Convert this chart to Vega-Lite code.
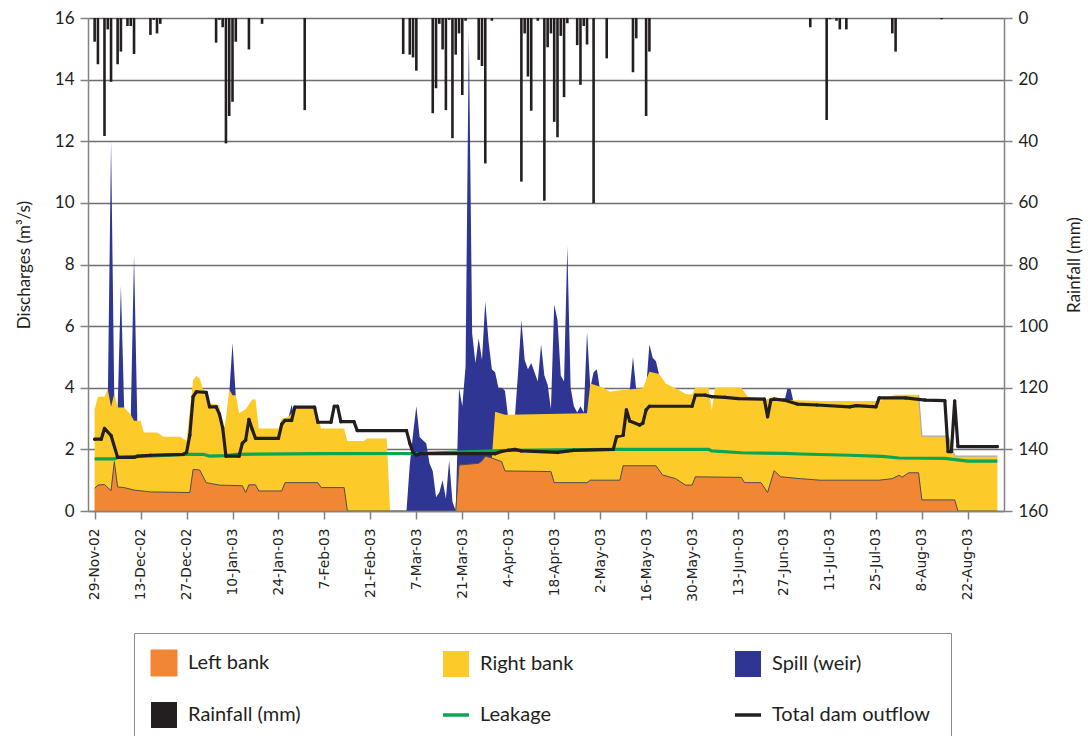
{
  "$schema": "https://vega.github.io/schema/vega-lite/v6.json",
  "autosize": {"type": "none"},
  "width": 916,
  "height": 493,
  "padding": {"left": 88, "top": 18, "right": 84, "bottom": 225},
  "config": {
    "font": "Lato",
    "view": {"stroke": null},
    "axis": {
      "labelFont": "Lato", "labelFontSize": 17, "labelColor": "#231f20",
      "titleFont": "Lato", "titleFontSize": 17, "titleFontWeight": "normal", "titleColor": "#231f20",
      "domainColor": "#808285", "domainWidth": 1.5, "tickColor": "#808285", "tickWidth": 1.5, "tickSize": 8
    },
    "legend": {
      "orient": "none", "legendX": 46, "legendY": 615,
      "direction": "horizontal", "columns": 3, "gridAlign": "all",
      "padding": 20, "strokeColor": "#8a8c8f",
      "symbolSize": 676, "symbolType": "square", "symbolOpacity": 1,
      "labelFont": "Lato", "labelFontSize": 20, "labelColor": "#231f20",
      "labelOffset": 14, "labelLimit": 400, "columnPadding": 89, "rowPadding": 24
    }
  },
  "datasets": {
    "left": [
      {"date": "2002-11-29", "value": 0.74}, {"date": "2002-11-30", "value": 0.84}, {"date": "2002-12-02", "value": 0.86},
      {"date": "2002-12-04", "value": 0.66}, {"date": "2002-12-05", "value": 1.6}, {"date": "2002-12-06", "value": 0.78},
      {"date": "2002-12-08", "value": 0.76}, {"date": "2002-12-11", "value": 0.68}, {"date": "2002-12-16", "value": 0.62},
      {"date": "2002-12-28", "value": 0.6}, {"date": "2002-12-29", "value": 1.35}, {"date": "2002-12-31", "value": 1.33},
      {"date": "2003-01-02", "value": 0.92}, {"date": "2003-01-06", "value": 0.84}, {"date": "2003-01-13", "value": 0.82},
      {"date": "2003-01-14", "value": 0.6}, {"date": "2003-01-15", "value": 0.85}, {"date": "2003-01-17", "value": 0.85},
      {"date": "2003-01-18", "value": 0.65}, {"date": "2003-01-25", "value": 0.65}, {"date": "2003-01-26", "value": 0.92},
      {"date": "2003-02-05", "value": 0.92}, {"date": "2003-02-06", "value": 0.76}, {"date": "2003-02-13", "value": 0.76},
      {"date": "2003-02-14", "value": 0}, {"date": "2003-03-19", "value": 0}, {"date": "2003-03-20", "value": 1.49},
      {"date": "2003-03-26", "value": 1.55}, {"date": "2003-03-27", "value": 1.63}, {"date": "2003-03-28", "value": 1.78},
      {"date": "2003-03-30", "value": 1.72}, {"date": "2003-04-02", "value": 1.6}, {"date": "2003-04-03", "value": 1.3},
      {"date": "2003-04-17", "value": 1.28}, {"date": "2003-04-18", "value": 0.92}, {"date": "2003-04-28", "value": 0.92},
      {"date": "2003-04-29", "value": 1.0}, {"date": "2003-05-08", "value": 1.0}, {"date": "2003-05-09", "value": 1.47},
      {"date": "2003-05-19", "value": 1.47}, {"date": "2003-05-21", "value": 1.17}, {"date": "2003-05-25", "value": 1.05},
      {"date": "2003-05-28", "value": 0.84}, {"date": "2003-05-30", "value": 0.84}, {"date": "2003-05-31", "value": 1.11},
      {"date": "2003-06-14", "value": 1.09}, {"date": "2003-06-15", "value": 0.92}, {"date": "2003-06-20", "value": 0.92},
      {"date": "2003-06-22", "value": 0.6}, {"date": "2003-06-24", "value": 1.31}, {"date": "2003-06-26", "value": 1.11},
      {"date": "2003-07-02", "value": 1.05}, {"date": "2003-07-08", "value": 1.0}, {"date": "2003-07-26", "value": 1.0},
      {"date": "2003-07-30", "value": 1.05}, {"date": "2003-08-01", "value": 1.16}, {"date": "2003-08-02", "value": 1.1},
      {"date": "2003-08-04", "value": 1.24}, {"date": "2003-08-07", "value": 1.24}, {"date": "2003-08-08", "value": 0.36},
      {"date": "2003-08-18", "value": 0.36}, {"date": "2003-08-19", "value": 0}, {"date": "2003-08-31", "value": 0}
    ],
    "banks": [
      {"date": "2002-11-29", "value": 3.3}, {"date": "2002-11-30", "value": 3.71}, {"date": "2002-12-02", "value": 3.71},
      {"date": "2002-12-03", "value": 3.95}, {"date": "2002-12-04", "value": 3.38}, {"date": "2002-12-05", "value": 3.81},
      {"date": "2002-12-06", "value": 3.36}, {"date": "2002-12-08", "value": 3.36}, {"date": "2002-12-10", "value": 3.12},
      {"date": "2002-12-11", "value": 2.93}, {"date": "2002-12-13", "value": 2.93}, {"date": "2002-12-14", "value": 2.55},
      {"date": "2002-12-18", "value": 2.55}, {"date": "2002-12-20", "value": 2.41}, {"date": "2002-12-25", "value": 2.41},
      {"date": "2002-12-27", "value": 2.28}, {"date": "2002-12-29", "value": 4.25}, {"date": "2002-12-30", "value": 4.38},
      {"date": "2002-12-31", "value": 4.3}, {"date": "2003-01-01", "value": 3.95}, {"date": "2003-01-02", "value": 3.87},
      {"date": "2003-01-03", "value": 3.5}, {"date": "2003-01-06", "value": 3.44}, {"date": "2003-01-07", "value": 2.4},
      {"date": "2003-01-08", "value": 3.0}, {"date": "2003-01-09", "value": 3.95}, {"date": "2003-01-10", "value": 3.76},
      {"date": "2003-01-11", "value": 3.76}, {"date": "2003-01-12", "value": 3.17}, {"date": "2003-01-14", "value": 3.3},
      {"date": "2003-01-16", "value": 3.62}, {"date": "2003-01-17", "value": 3.62}, {"date": "2003-01-18", "value": 2.68},
      {"date": "2003-01-24", "value": 2.68}, {"date": "2003-01-25", "value": 3.0}, {"date": "2003-01-27", "value": 3.05},
      {"date": "2003-01-30", "value": 3.41}, {"date": "2003-02-04", "value": 3.41}, {"date": "2003-02-06", "value": 2.68},
      {"date": "2003-02-13", "value": 2.68}, {"date": "2003-02-14", "value": 2.27}, {"date": "2003-02-19", "value": 2.27},
      {"date": "2003-02-20", "value": 2.35}, {"date": "2003-02-26", "value": 2.35}, {"date": "2003-02-27", "value": 0},
      {"date": "2003-03-29", "value": 0}, {"date": "2003-03-30", "value": 1.72}, {"date": "2003-03-31", "value": 3.22},
      {"date": "2003-04-03", "value": 3.12}, {"date": "2003-04-28", "value": 3.17}, {"date": "2003-04-29", "value": 4.14},
      {"date": "2003-05-03", "value": 4.0}, {"date": "2003-05-05", "value": 3.87}, {"date": "2003-05-08", "value": 3.92},
      {"date": "2003-05-15", "value": 3.98}, {"date": "2003-05-17", "value": 4.52}, {"date": "2003-05-20", "value": 4.45},
      {"date": "2003-05-22", "value": 4.14}, {"date": "2003-05-26", "value": 3.93}, {"date": "2003-05-28", "value": 3.8},
      {"date": "2003-05-30", "value": 3.78}, {"date": "2003-05-31", "value": 4.0}, {"date": "2003-06-04", "value": 4.0},
      {"date": "2003-06-05", "value": 3.28}, {"date": "2003-06-06", "value": 4.0}, {"date": "2003-06-14", "value": 4.0},
      {"date": "2003-06-16", "value": 3.71}, {"date": "2003-06-21", "value": 3.6}, {"date": "2003-06-24", "value": 3.71},
      {"date": "2003-06-27", "value": 3.6}, {"date": "2003-07-09", "value": 3.57}, {"date": "2003-07-26", "value": 3.57},
      {"date": "2003-07-28", "value": 3.67}, {"date": "2003-07-31", "value": 3.77}, {"date": "2003-08-07", "value": 3.77},
      {"date": "2003-08-08", "value": 2.43}, {"date": "2003-08-16", "value": 2.43}, {"date": "2003-08-18", "value": 1.78},
      {"date": "2003-08-31", "value": 1.78}
    ],
    "spill": [
      {"date": "2002-12-02", "value": 0}, {"date": "2002-12-03", "value": 3.5}, {"date": "2002-12-04", "value": 12.0},
      {"date": "2002-12-05", "value": 3.5}, {"date": "2002-12-06", "value": 3.3}, {"date": "2002-12-07", "value": 7.3},
      {"date": "2002-12-08", "value": 3.3}, {"date": "2002-12-10", "value": 3.0}, {"date": "2002-12-11", "value": 8.3},
      {"date": "2002-12-12", "value": 2.9}, {"date": "2002-12-13", "value": 0}, {"date": "2003-01-08", "value": 0},
      {"date": "2003-01-09", "value": 3.8}, {"date": "2003-01-10", "value": 5.45}, {"date": "2003-01-11", "value": 3.7},
      {"date": "2003-01-12", "value": 0}, {"date": "2003-01-26", "value": 0}, {"date": "2003-01-27", "value": 3.0},
      {"date": "2003-01-28", "value": 3.45}, {"date": "2003-01-29", "value": 3.0}, {"date": "2003-01-30", "value": 0},
      {"date": "2003-03-04", "value": 0}, {"date": "2003-03-05", "value": 1.5}, {"date": "2003-03-06", "value": 2.5},
      {"date": "2003-03-07", "value": 3.4}, {"date": "2003-03-08", "value": 2.4}, {"date": "2003-03-09", "value": 2.3},
      {"date": "2003-03-10", "value": 2.2}, {"date": "2003-03-11", "value": 1.55}, {"date": "2003-03-12", "value": 1.3},
      {"date": "2003-03-13", "value": 0.45}, {"date": "2003-03-14", "value": 0.6}, {"date": "2003-03-15", "value": 1.0},
      {"date": "2003-03-16", "value": 0.4}, {"date": "2003-03-17", "value": 1.65}, {"date": "2003-03-18", "value": 0.3},
      {"date": "2003-03-19", "value": 0}, {"date": "2003-03-20", "value": 3.98}, {"date": "2003-03-21", "value": 3.4},
      {"date": "2003-03-22", "value": 4.7}, {"date": "2003-03-23", "value": 15.5}, {"date": "2003-03-24", "value": 5.77},
      {"date": "2003-03-25", "value": 4.8}, {"date": "2003-03-26", "value": 5.6}, {"date": "2003-03-27", "value": 4.9},
      {"date": "2003-03-28", "value": 6.8}, {"date": "2003-03-29", "value": 5.5}, {"date": "2003-03-30", "value": 4.6},
      {"date": "2003-03-31", "value": 4.5}, {"date": "2003-04-01", "value": 4.0}, {"date": "2003-04-02", "value": 4.0},
      {"date": "2003-04-03", "value": 3.9}, {"date": "2003-04-04", "value": 3.0}, {"date": "2003-04-06", "value": 3.0},
      {"date": "2003-04-07", "value": 4.5}, {"date": "2003-04-08", "value": 6.2}, {"date": "2003-04-09", "value": 4.9},
      {"date": "2003-04-10", "value": 4.6}, {"date": "2003-04-11", "value": 4.8}, {"date": "2003-04-12", "value": 4.5},
      {"date": "2003-04-13", "value": 4.2}, {"date": "2003-04-14", "value": 5.4}, {"date": "2003-04-15", "value": 4.4},
      {"date": "2003-04-16", "value": 4.1}, {"date": "2003-04-17", "value": 3.3}, {"date": "2003-04-18", "value": 6.7},
      {"date": "2003-04-19", "value": 6.2}, {"date": "2003-04-20", "value": 4.4}, {"date": "2003-04-21", "value": 4.2},
      {"date": "2003-04-22", "value": 8.6}, {"date": "2003-04-23", "value": 4.0}, {"date": "2003-04-24", "value": 3.4},
      {"date": "2003-04-25", "value": 3.2}, {"date": "2003-04-26", "value": 3.4}, {"date": "2003-04-27", "value": 3.2},
      {"date": "2003-04-28", "value": 5.8}, {"date": "2003-04-29", "value": 4.0}, {"date": "2003-04-30", "value": 4.5},
      {"date": "2003-05-01", "value": 4.6}, {"date": "2003-05-02", "value": 3.9}, {"date": "2003-05-03", "value": 0},
      {"date": "2003-05-10", "value": 0}, {"date": "2003-05-11", "value": 3.9}, {"date": "2003-05-12", "value": 5.0},
      {"date": "2003-05-13", "value": 3.9}, {"date": "2003-05-14", "value": 0}, {"date": "2003-05-15", "value": 0},
      {"date": "2003-05-16", "value": 4.0}, {"date": "2003-05-17", "value": 5.4}, {"date": "2003-05-18", "value": 4.97},
      {"date": "2003-05-19", "value": 4.86}, {"date": "2003-05-20", "value": 4.4}, {"date": "2003-05-21", "value": 0},
      {"date": "2003-06-26", "value": 0}, {"date": "2003-06-27", "value": 3.5}, {"date": "2003-06-28", "value": 3.96},
      {"date": "2003-06-29", "value": 3.96}, {"date": "2003-06-30", "value": 3.5}, {"date": "2003-07-01", "value": 0},
      {"date": "2003-08-31", "value": 0}
    ],
    "leakage": [
      {"date": "2002-11-29", "value": 1.69}, {"date": "2002-12-05", "value": 1.69}, {"date": "2002-12-06", "value": 1.74},
      {"date": "2002-12-27", "value": 1.84}, {"date": "2003-01-01", "value": 1.84}, {"date": "2003-01-03", "value": 1.78},
      {"date": "2003-01-08", "value": 1.8}, {"date": "2003-01-11", "value": 1.84}, {"date": "2003-02-07", "value": 1.86},
      {"date": "2003-03-09", "value": 1.87}, {"date": "2003-04-04", "value": 1.97}, {"date": "2003-05-06", "value": 2.0},
      {"date": "2003-06-04", "value": 2.0}, {"date": "2003-06-05", "value": 1.95}, {"date": "2003-06-14", "value": 1.89},
      {"date": "2003-06-27", "value": 1.87}, {"date": "2003-07-02", "value": 1.85}, {"date": "2003-07-17", "value": 1.81},
      {"date": "2003-07-27", "value": 1.77}, {"date": "2003-08-01", "value": 1.72}, {"date": "2003-08-15", "value": 1.71},
      {"date": "2003-08-22", "value": 1.62}, {"date": "2003-08-31", "value": 1.62}
    ],
    "outflow": [
      {"date": "2002-11-29", "value": 2.33}, {"date": "2002-12-01", "value": 2.33}, {"date": "2002-12-02", "value": 2.68},
      {"date": "2002-12-04", "value": 2.45}, {"date": "2002-12-06", "value": 1.74}, {"date": "2002-12-11", "value": 1.74},
      {"date": "2002-12-12", "value": 1.78}, {"date": "2002-12-16", "value": 1.81}, {"date": "2002-12-26", "value": 1.84},
      {"date": "2002-12-27", "value": 1.9}, {"date": "2002-12-28", "value": 2.47}, {"date": "2002-12-29", "value": 3.71},
      {"date": "2002-12-30", "value": 3.87}, {"date": "2003-01-02", "value": 3.85}, {"date": "2003-01-03", "value": 3.38},
      {"date": "2003-01-05", "value": 3.38}, {"date": "2003-01-06", "value": 3.15}, {"date": "2003-01-07", "value": 2.7},
      {"date": "2003-01-08", "value": 1.78}, {"date": "2003-01-12", "value": 1.78}, {"date": "2003-01-13", "value": 2.2},
      {"date": "2003-01-14", "value": 2.3}, {"date": "2003-01-15", "value": 2.97}, {"date": "2003-01-16", "value": 2.65},
      {"date": "2003-01-17", "value": 2.36}, {"date": "2003-01-24", "value": 2.36}, {"date": "2003-01-25", "value": 2.82},
      {"date": "2003-01-26", "value": 2.94}, {"date": "2003-01-28", "value": 2.94}, {"date": "2003-01-29", "value": 3.37},
      {"date": "2003-02-04", "value": 3.37}, {"date": "2003-02-05", "value": 2.88}, {"date": "2003-02-09", "value": 2.88},
      {"date": "2003-02-10", "value": 3.4}, {"date": "2003-02-11", "value": 3.4}, {"date": "2003-02-12", "value": 2.9},
      {"date": "2003-02-16", "value": 2.9}, {"date": "2003-02-17", "value": 2.61}, {"date": "2003-03-04", "value": 2.61},
      {"date": "2003-03-05", "value": 2.2}, {"date": "2003-03-06", "value": 1.9}, {"date": "2003-03-07", "value": 1.82},
      {"date": "2003-03-08", "value": 1.86}, {"date": "2003-03-31", "value": 1.86}, {"date": "2003-04-01", "value": 1.9},
      {"date": "2003-04-02", "value": 1.93}, {"date": "2003-04-04", "value": 1.97}, {"date": "2003-04-06", "value": 2.0},
      {"date": "2003-04-08", "value": 1.95}, {"date": "2003-04-19", "value": 1.9}, {"date": "2003-04-24", "value": 1.97},
      {"date": "2003-05-06", "value": 2.0}, {"date": "2003-05-07", "value": 2.41}, {"date": "2003-05-09", "value": 2.46},
      {"date": "2003-05-10", "value": 3.28}, {"date": "2003-05-11", "value": 2.92}, {"date": "2003-05-14", "value": 2.79},
      {"date": "2003-05-15", "value": 2.85}, {"date": "2003-05-16", "value": 3.28}, {"date": "2003-05-17", "value": 3.4},
      {"date": "2003-05-30", "value": 3.4}, {"date": "2003-05-31", "value": 3.76}, {"date": "2003-06-03", "value": 3.76},
      {"date": "2003-06-05", "value": 3.71}, {"date": "2003-06-09", "value": 3.69}, {"date": "2003-06-13", "value": 3.65},
      {"date": "2003-06-21", "value": 3.63}, {"date": "2003-06-22", "value": 3.06}, {"date": "2003-06-23", "value": 3.6},
      {"date": "2003-06-24", "value": 3.63}, {"date": "2003-06-27", "value": 3.6}, {"date": "2003-07-01", "value": 3.47},
      {"date": "2003-07-07", "value": 3.44}, {"date": "2003-07-17", "value": 3.38}, {"date": "2003-07-19", "value": 3.42},
      {"date": "2003-07-25", "value": 3.38}, {"date": "2003-07-26", "value": 3.67}, {"date": "2003-08-03", "value": 3.67},
      {"date": "2003-08-09", "value": 3.6}, {"date": "2003-08-15", "value": 3.58}, {"date": "2003-08-16", "value": 1.93},
      {"date": "2003-08-17", "value": 1.93}, {"date": "2003-08-18", "value": 3.57}, {"date": "2003-08-19", "value": 2.09},
      {"date": "2003-08-31", "value": 2.09}
    ],
    "rain": [
      {"date": "2002-11-29", "rain": 7.7}, {"date": "2002-11-30", "rain": 15}, {"date": "2002-12-02", "rain": 38.3},
      {"date": "2002-12-03", "rain": 3.7}, {"date": "2002-12-04", "rain": 20.7}, {"date": "2002-12-06", "rain": 15},
      {"date": "2002-12-07", "rain": 10.9}, {"date": "2002-12-09", "rain": 2.6}, {"date": "2002-12-10", "rain": 2.6},
      {"date": "2002-12-11", "rain": 11.7}, {"date": "2002-12-16", "rain": 5.5}, {"date": "2002-12-17", "rain": 0.6},
      {"date": "2002-12-18", "rain": 5}, {"date": "2002-12-19", "rain": 1.9}, {"date": "2003-01-05", "rain": 8},
      {"date": "2003-01-06", "rain": 0.6}, {"date": "2003-01-07", "rain": 3}, {"date": "2003-01-08", "rain": 40.7},
      {"date": "2003-01-09", "rain": 31.8}, {"date": "2003-01-10", "rain": 27.2}, {"date": "2003-01-11", "rain": 7.7},
      {"date": "2003-01-15", "rain": 10.2}, {"date": "2003-01-19", "rain": 1.9}, {"date": "2003-02-01", "rain": 29.9},
      {"date": "2003-03-03", "rain": 11.7}, {"date": "2003-03-05", "rain": 11.9}, {"date": "2003-03-06", "rain": 12.8},
      {"date": "2003-03-07", "rain": 17.1}, {"date": "2003-03-12", "rain": 30.9}, {"date": "2003-03-13", "rain": 22.8},
      {"date": "2003-03-14", "rain": 1.9}, {"date": "2003-03-15", "rain": 10.2}, {"date": "2003-03-16", "rain": 29.9},
      {"date": "2003-03-17", "rain": 0.6}, {"date": "2003-03-18", "rain": 39}, {"date": "2003-03-19", "rain": 11.9},
      {"date": "2003-03-20", "rain": 5}, {"date": "2003-03-21", "rain": 25}, {"date": "2003-03-22", "rain": 0.9},
      {"date": "2003-03-26", "rain": 13.6}, {"date": "2003-03-27", "rain": 15.6}, {"date": "2003-03-28", "rain": 47.2},
      {"date": "2003-03-30", "rain": 0.9}, {"date": "2003-04-08", "rain": 53.1}, {"date": "2003-04-09", "rain": 5},
      {"date": "2003-04-10", "rain": 19}, {"date": "2003-04-11", "rain": 30.1}, {"date": "2003-04-13", "rain": 0.9},
      {"date": "2003-04-15", "rain": 59.3}, {"date": "2003-04-16", "rain": 9.5}, {"date": "2003-04-17", "rain": 5},
      {"date": "2003-04-18", "rain": 33.7}, {"date": "2003-04-19", "rain": 38.7}, {"date": "2003-04-20", "rain": 5.8},
      {"date": "2003-04-21", "rain": 25.7}, {"date": "2003-04-22", "rain": 1.7}, {"date": "2003-04-25", "rain": 8.8},
      {"date": "2003-04-26", "rain": 21.7}, {"date": "2003-04-27", "rain": 2.6}, {"date": "2003-04-28", "rain": 8.6},
      {"date": "2003-04-30", "rain": 60.1}, {"date": "2003-05-04", "rain": 13.1}, {"date": "2003-05-12", "rain": 17.6},
      {"date": "2003-05-13", "rain": 6.6}, {"date": "2003-05-16", "rain": 31.8}, {"date": "2003-05-17", "rain": 10.9},
      {"date": "2003-07-05", "rain": 3}, {"date": "2003-07-10", "rain": 33.1}, {"date": "2003-07-11", "rain": 0.4},
      {"date": "2003-07-13", "rain": 0.9}, {"date": "2003-07-14", "rain": 3.7}, {"date": "2003-07-16", "rain": 3.7},
      {"date": "2003-07-30", "rain": 5}, {"date": "2003-07-31", "rain": 10.9}, {"date": "2003-08-14", "rain": 0.4}
    ]
  },
  "encoding": {
    "x": {
      "field": "date", "type": "temporal",
      "scale": {
        "type": "utc",
        "domain": [
          {"year": 2002, "month": 11, "date": 28, "hours": 12, "utc": true},
          {"year": 2003, "month": 8, "date": 31, "hours": 12, "utc": true}
        ]
      },
      "axis": {
        "title": null, "grid": false, "zindex": 1,
        "format": "%-d-%b-%y", "labelAngle": 270,
        "labelFont": "DejaVu Sans", "labelFontSize": 13.8, "labelPadding": 9,
        "values": [
          {"year": 2002, "month": 11, "date": 29, "utc": true}, {"year": 2002, "month": 12, "date": 13, "utc": true},
          {"year": 2002, "month": 12, "date": 27, "utc": true}, {"year": 2003, "month": 1, "date": 10, "utc": true},
          {"year": 2003, "month": 1, "date": 24, "utc": true}, {"year": 2003, "month": 2, "date": 7, "utc": true},
          {"year": 2003, "month": 2, "date": 21, "utc": true}, {"year": 2003, "month": 3, "date": 7, "utc": true},
          {"year": 2003, "month": 3, "date": 21, "utc": true}, {"year": 2003, "month": 4, "date": 4, "utc": true},
          {"year": 2003, "month": 4, "date": 18, "utc": true}, {"year": 2003, "month": 5, "date": 2, "utc": true},
          {"year": 2003, "month": 5, "date": 16, "utc": true}, {"year": 2003, "month": 5, "date": 30, "utc": true},
          {"year": 2003, "month": 6, "date": 13, "utc": true}, {"year": 2003, "month": 6, "date": 27, "utc": true},
          {"year": 2003, "month": 7, "date": 11, "utc": true}, {"year": 2003, "month": 7, "date": 25, "utc": true},
          {"year": 2003, "month": 8, "date": 8, "utc": true}, {"year": 2003, "month": 8, "date": 22, "utc": true}
        ]
      }
    }
  },
  "layer": [
    {
      "encoding": {
        "y": {
          "field": "value", "type": "quantitative",
          "scale": {"domain": [0, 16], "nice": false},
          "axis": {
            "orient": "left", "title": "Discharges (m³/s)", "values": [0, 2, 4, 6, 8, 10, 12, 14, 16],
            "grid": true, "gridColor": "#6d6e71", "gridWidth": 1.3,
            "labelPadding": 6, "titlePadding": 21
          }
        }
      },
      "layer": [
        {
          "data": {"name": "spill"},
          "mark": {"type": "area", "opacity": 1, "interpolate": "linear"},
          "encoding": {
            "color": {
              "datum": "Spill (weir)", "type": "nominal",
              "scale": {
                "domain": ["Left bank", "Right bank", "Spill (weir)", "Rainfall (mm)", "Leakage", "Total dam outflow"],
                "range": ["#f18735", "#fdcb29", "#2e3592", "#231f20", "#0aa650", "#231f20"]
              },
              "legend": {
                "title": null,
                "encode": {
                  "symbols": {
                    "update": {
                      "shape": {"signal": "indexof(['Leakage','Total dam outflow'], datum.value) >= 0 ? 'stroke' : 'square'"},
                      "fill": {"signal": "scale('color', datum.value)"},
                      "stroke": {"signal": "datum.value === 'Left bank' ? '#6d6e71' : scale('color', datum.value)"},
                      "strokeWidth": {"signal": "indexof(['Leakage','Total dam outflow'], datum.value) >= 0 ? 3.5 : (datum.value === 'Left bank' ? 1 : 0)"},
                      "opacity": {"value": 1}
                    }
                  }
                }
              }
            }
          }
        },
        {
          "data": {"name": "banks"},
          "mark": {"type": "area", "opacity": 1, "interpolate": "linear"},
          "encoding": {"color": {"datum": "Right bank", "type": "nominal"}}
        },
        {
          "data": {"name": "left"},
          "mark": {"type": "area", "opacity": 1, "interpolate": "linear"},
          "encoding": {"color": {"datum": "Left bank", "type": "nominal"}}
        },
        {
          "data": {"name": "left"},
          "mark": {"type": "line", "color": "#4d4d4f", "strokeWidth": 1},
          "encoding": {}
        },
        {
          "data": {"name": "banks"},
          "transform": [{"filter": "time(datum.date) >= utc(2003, 7, 7)"}],
          "mark": {"type": "line", "color": "#a7a9ac", "strokeWidth": 1.2},
          "encoding": {}
        },
        {
          "data": {"name": "leakage"},
          "mark": {"type": "line", "strokeWidth": 3.2},
          "encoding": {"color": {"datum": "Leakage", "type": "nominal"}}
        },
        {
          "data": {"name": "outflow"},
          "mark": {"type": "line", "strokeWidth": 3.2, "strokeJoin": "round", "point": {"filled": true, "size": 12}},
          "encoding": {"color": {"datum": "Total dam outflow", "type": "nominal"}}
        }
      ]
    },
    {
      "data": {"name": "rain"},
      "mark": {"type": "bar", "width": 2.6},
      "encoding": {
        "y": {
          "field": "rain", "type": "quantitative",
          "scale": {"domain": [0, 160], "reverse": true, "nice": false},
          "axis": {
            "orient": "right", "title": "Rainfall (mm)", "values": [0, 20, 40, 60, 80, 100, 120, 140, 160],
            "grid": false, "labelPadding": 6, "titlePadding": 36, "titleAngle": 270
          }
        },
        "color": {"datum": "Rainfall (mm)", "type": "nominal"}
      }
    }
  ],
  "resolve": {"scale": {"y": "independent"}}
}
